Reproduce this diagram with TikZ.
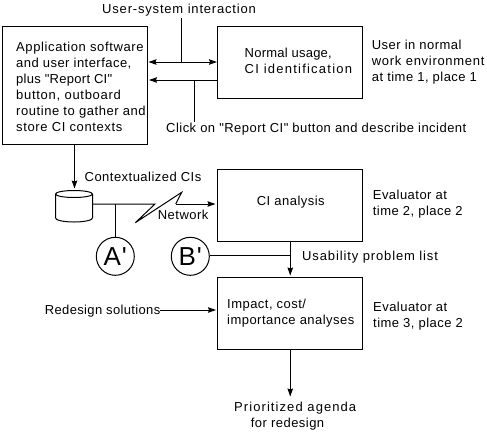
\documentclass[tikz,border=0pt]{standalone}
\usepackage{fontspec}
\setmainfont[LetterSpace=3.6,Ligatures=TeXOff]{Liberation Sans}
\newcommand{\lsp}[2]{{\addfontfeature{LetterSpace=#1}#2}}
\usetikzlibrary{arrows.meta,calc}
\tikzset{
  box/.style={draw=black,line width=1pt,rectangle,inner sep=0pt,minimum width=145pt},
  txt/.style={inner sep=0pt,anchor=north west,align=left,font=\fontsize{13}{16}\selectfont,yshift=-1.5pt},
  conn/.style={draw=black,line width=1pt},
  arr/.style={conn,-{Stealth[length=8pt,width=5.5pt,inset=1pt]}},
  circ/.style={draw=black,line width=1pt,circle,minimum size=38pt,inner sep=0pt,font=\fontsize{26}{26}\selectfont}
}
\begin{document}
\begin{tikzpicture}[x=1pt,y=-1pt]
\useasboundingbox (0,0) rectangle (487,432);
% boxes
\node[box,minimum height=117.5pt] (app) at (75,85.25) {};
\node[box,minimum height=71.5pt] (normal) at (290.25,62.25) {};
\node[box,minimum height=72pt] (analysis) at (290.25,205.25) {};
\node[box,minimum height=72pt] (impact) at (290.25,313) {};
% free ends
\coordinate (ustop) at (181.5,18);
\coordinate (usmid) at (181.5,62);
\coordinate (appU) at (148.5,62);
\coordinate (normU) at (217,62);
\coordinate (appL) at (149,80);
\coordinate (normL) at (218,80);
\coordinate (clkmid) at (194.5,80);
\coordinate (clkend) at (194.5,122);
\coordinate (appB) at (74.5,144);
\coordinate (dbTop) at (74.5,188.5);
% cylinder
\node[inner sep=0pt,minimum width=37pt,minimum height=32pt] (db) at (74,206) {};
\draw[line width=1pt] (55.5,194) arc[start angle=180,end angle=0,x radius=18.5pt,y radius=3.5pt]
  -- (92.5,218) arc[start angle=0,end angle=-180,x radius=18.5pt,y radius=4pt] -- cycle;
\draw[line width=1pt] (55.5,194) arc[start angle=180,end angle=360,x radius=18.5pt,y radius=3.5pt];
% circles
\node[circ] (aprime) at (115.3,256.3) {\raisebox{-1pt}{A'}};
\node[circ] (bprime) at (190.3,256.3) {\raisebox{-1pt}{B'}};
% connectors
\draw[conn] (ustop) -- (usmid);
\draw[arr] (usmid) -- (normU);
\draw[arr] (usmid) -- (appU);
\draw[conn] (clkend) -- (clkmid);
\draw[arr] (normL) -- (appL);
\draw[arr] (appB) -- (dbTop);
\coordinate (netA) at (115.3,204);
\coordinate (z1) at (155,204);
\coordinate (z2) at (135.3,222.7);
\coordinate (z3) at (181.7,192.3);
\coordinate (z4) at (175.7,204);
\coordinate (anaIn) at (215.5,204);
\draw[conn] (92.5,204) -- (z1) -- (z2) -- (z3) -- (z4);
\draw[arr] (z4) -- (anaIn);
\draw[conn] (netA) -- (aprime.north);
\coordinate (bj) at (290.25,255.3);
\draw[conn] (bprime.east |- bj) -- (bj);
\coordinate (impIn) at (290.25,275.5);
\draw[arr] (analysis.south) -- (impIn);
\coordinate (agenda) at (290.25,396.5);
\draw[arr] (impact.south) -- (agenda);
\coordinate (redS) at (160,310);
\coordinate (redE) at (216,310);
\draw[arr] (redS) -- (redE);
% texts
\node[txt] (t1) at (16,40.5) {\lsp{4.7}{Application software}\\and user interface,\\\lsp{2.2}{plus "Report CI"}\\\lsp{5.5}{button, outboard}\\\lsp{4.3}{routine to gather and}\\\lsp{4.7}{store CI contexts}};
\node[txt] (t2) at (102,2) {\lsp{6.3}{User-system interaction}};
\node[txt] (t3) at (166,121.5) {Click on "Report CI" button and describe incident};
\node[txt] (t4) at (84.5,170.5) {Contextualized CIs};
\node[txt] (t5) at (157.7,208) {Network};
\node[txt] (t6) at (244.5,46) {\lsp{1.8}{Normal usage,}\\\lsp{9.5}{CI identification}};
\node[txt] (t7) at (371.7,38) {User in normal\\\lsp{5.5}{work environment}\\at time 1, place 1};
\node[txt] (t8) at (256.7,194.7) {CI analysis};
\node[txt] (t9) at (372.7,188.5) {Evaluator at\\time 2, place 2};
\node[txt] (t10) at (302,249.5) {\lsp{6.7}{Usability problem list}};
\node[txt] (t11) at (227,297.5) {Impact, cost/\\importance analyses};
\node[txt] (t12) at (373,300.7) {Evaluator at\\time 3, place 2};
\node[txt] (t13) at (44.7,303.7) {\lsp{2.7}{Redesign solutions}};
\node[txt] (t14) at (234,400) {\lsp{8.3}{Prioritized agenda}};
\node[txt] (t15) at (250.7,416) {for redesign};
\end{tikzpicture}
\end{document}
